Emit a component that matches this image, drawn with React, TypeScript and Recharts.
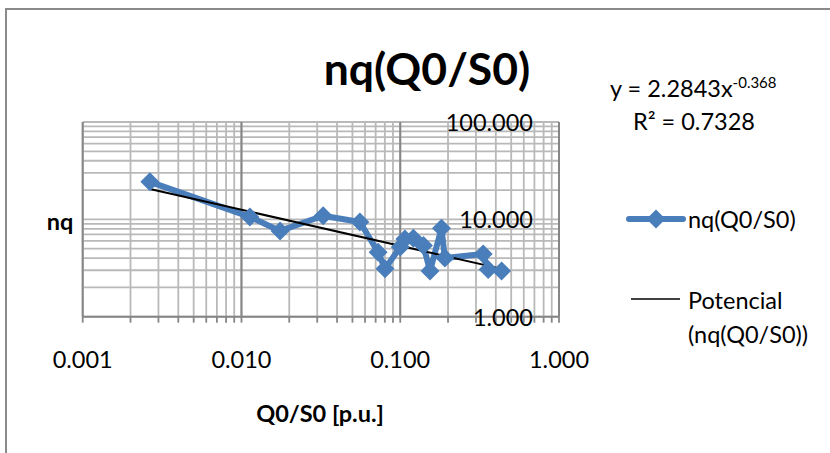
import React from 'react';
import { ComposedChart, Line, XAxis, YAxis, CartesianGrid, ReferenceLine } from 'recharts';

// Q0/S0 [p.u.] values (x) and nq values (y)
const ratioQ0S0 = [0.00265, 0.0113, 0.0175, 0.0327, 0.0557, 0.0726, 0.0802, 0.1, 0.107, 0.121, 0.14, 0.154, 0.182, 0.191, 0.333, 0.358, 0.435];
const nqValues = [24.3, 10.6, 7.6, 10.9, 9.4, 4.6, 3.1, 5.2, 6.3, 6.4, 5.4, 2.95, 8.1, 4.0, 4.4, 3.05, 2.95];

// power trend line end points (y = 2.2843 x^-0.368)
const trendX = [0.00265, 0.435];
const trendY = [20.5, 3.1];

const xTicks = [
  0.001, 0.002, 0.003, 0.004, 0.005, 0.006, 0.007, 0.008, 0.009,
  0.01, 0.02, 0.03, 0.04, 0.05, 0.06, 0.07, 0.08, 0.09,
  0.1, 0.2, 0.3, 0.4, 0.5, 0.6, 0.7, 0.8, 0.9, 1,
];
const yTicks = [1, 2, 3, 4, 5, 6, 7, 8, 9, 10, 20, 30, 40, 50, 60, 70, 80, 90, 100];
const xMajor = [0.001, 0.01, 0.1, 1];
const yMajor = [1, 10, 100];
const xMajorGrid = [0.001, 0.01, 0.1];

const seriesData = ratioQ0S0.map((x, i) => ({ x, y: nqValues[i] }));
const trendData = trendX.map((x, i) => ({ x, y: trendY[i] }));

const FONT = 'Lato, "Open Sans", sans-serif';
const BLUE = '#4a7ebb';

const isMajor = (v: number, list: number[]) => list.some((m) => Math.abs(v - m) < m * 1e-6);

function XTick(props: any) {
  const { x, y, payload } = props;
  if (!isMajor(payload.value, xMajor)) return <g />;
  return (
    <text x={x} y={y + 34} textAnchor="middle" dominantBaseline="central" fontFamily={FONT} fontSize={23.5} fill="#000">
      {payload.value.toFixed(3)}
    </text>
  );
}

function YTick(props: any) {
  const { x, y, payload } = props;
  if (!isMajor(payload.value, yMajor)) return <g />;
  return (
    <text x={x - 34} y={y} textAnchor="end" dominantBaseline="central" fontFamily={FONT} fontSize={23.5} fill="#000">
      {payload.value.toFixed(3)}
    </text>
  );
}

function Diamond(props: any) {
  const { cx, cy } = props;
  if (cx == null || cy == null) return <g />;
  const r = 9.5;
  return <polygon points={`${cx},${cy - r} ${cx + r},${cy} ${cx},${cy + r} ${cx - r},${cy}`} fill={BLUE} />;
}

export default function App() {
  return (
    <div style={{ position: 'absolute', left: 0, top: 0, width: 830, height: 453, overflow: 'hidden', background: '#fff' }}>
      <ComposedChart width={830} height={453} margin={{ top: 122, right: 270, bottom: 106.3, left: 82.7 }}>
        <CartesianGrid stroke="#b9b9b9" strokeWidth={1.8} />
        {xMajorGrid.map((v) => (
          <ReferenceLine key={v} x={v} stroke="#868686" strokeWidth={2} />
        ))}
        <XAxis
          dataKey="x"
          type="number"
          scale="log"
          domain={[0.001, 1]}
          ticks={xTicks}
          interval={0}
          allowDataOverflow
          tick={<XTick />}
          tickSize={6}
          tickLine={{ stroke: '#868686', strokeWidth: 1.8 }}
          axisLine={{ stroke: '#868686', strokeWidth: 2 }}
          height={30}
        />
        <YAxis
          type="number"
          scale="log"
          domain={[1, 100]}
          ticks={yTicks}
          interval={0}
          allowDataOverflow
          orientation="right"
          width={1}
          tick={<YTick />}
          tickLine={false}
          axisLine={{ stroke: '#868686', strokeWidth: 2 }}
        />
        <Line
          data={seriesData}
          dataKey="y"
          stroke={BLUE}
          strokeWidth={6}
          strokeLinejoin="round"
          dot={<Diamond />}
          activeDot={false}
          isAnimationActive={false}
        />
        <Line
          data={trendData}
          dataKey="y"
          stroke="#000"
          strokeWidth={2}
          dot={false}
          activeDot={false}
          isAnimationActive={false}
        />
      </ComposedChart>
      <svg width={830} height={453} style={{ position: 'absolute', left: 0, top: 0, pointerEvents: 'none' }}>
        <rect x={6} y={9} width={900} height={500} fill="none" stroke="#8a8a8a" strokeWidth={2} />
        <text x={427} y={85} textAnchor="middle" fontFamily={FONT} fontWeight="bold" fontSize={44.5} fill="#000">
          nq(Q0/S0)
        </text>
        <text x={610} y={97} fontFamily={FONT} fontSize={23.5} fill="#000">
          y = 2.2843x
          <tspan fontSize={15} dy={-9}>-0.368</tspan>
        </text>
        <text x={633} y={130} fontFamily={FONT} fontSize={23.5} fill="#000">
          R² = 0.7328
        </text>
        <text x={60} y={230} textAnchor="middle" fontFamily={FONT} fontWeight="bold" fontSize={23.5} fill="#000">
          nq
        </text>
        <text x={320} y={422} textAnchor="middle" fontFamily={FONT} fontWeight="bold" fontSize={23.5} fill="#000">
          Q0/S0 [p.u.]
        </text>
        <line x1={629} y1={219} x2={683} y2={219} stroke={BLUE} strokeWidth={6} strokeLinecap="round" />
        <polygon points="656,209.5 665.5,219 656,228.5 646.5,219" fill={BLUE} />
        <text x={688} y={219} dominantBaseline="central" fontFamily={FONT} fontSize={23.5} fill="#000">
          nq(Q0/S0)
        </text>
        <line x1={631} y1={299} x2={680} y2={299} stroke="#000" strokeWidth={1.6} />
        <text x={688} y={300} dominantBaseline="central" fontFamily={FONT} fontSize={23.5} fill="#000">
          Potencial
        </text>
        <text x={688} y={334} dominantBaseline="central" fontFamily={FONT} fontSize={23.5} fill="#000">
          (nq(Q0/S0))
        </text>
      </svg>
    </div>
  );
}
